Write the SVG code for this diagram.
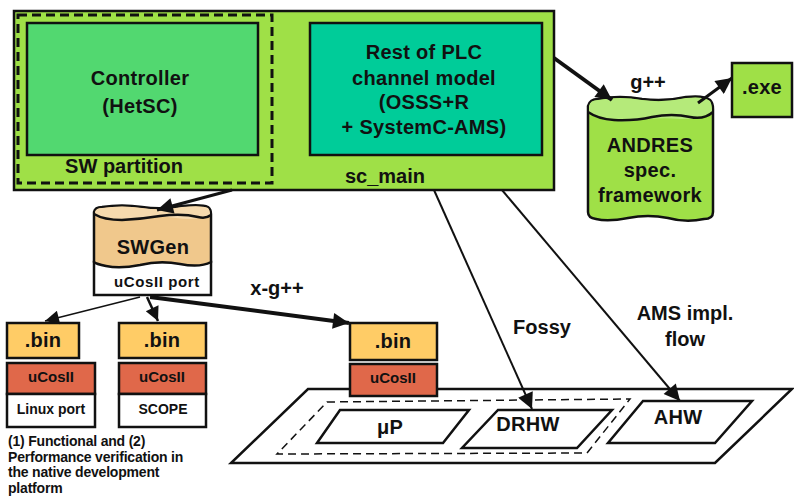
<svg xmlns="http://www.w3.org/2000/svg" width="794" height="497" viewBox="0 0 794 497">
  <style>
    .t { font-family: "Liberation Sans", Arial, sans-serif; font-weight: bold; fill: #111; text-anchor: middle; dominant-baseline: central; }
    .big { font-size: 20px; letter-spacing: 0.3px; }
    .mid { font-size: 20px; }
    .sm { font-size: 15px; }
    .cap { font-family: "Liberation Sans", Arial, sans-serif; font-weight: bold; font-size: 14px; fill: #111; letter-spacing: -0.2px; }
    .box { stroke: #111; stroke-width: 2.5; }
    .thin { stroke: #111; stroke-width: 2.5; fill: #fff; }
    .conn { fill: none; stroke: #111; }
  </style>
  <defs>
    <marker id="ah" viewBox="0 0 10 10" refX="10" refY="5" markerUnits="userSpaceOnUse" markerWidth="19" markerHeight="16" orient="auto">
      <path d="M0,0 L10,5 L0,10 Z" fill="#111"/>
    </marker>
    <marker id="ahs" viewBox="0 0 10 10" refX="10" refY="5" markerUnits="userSpaceOnUse" markerWidth="16" markerHeight="14" orient="auto">
      <path d="M0,0 L10,5 L0,10 Z" fill="#111"/>
    </marker>
  </defs>

  <!-- top-level SystemC model -->
  <g id="sc_main">
    <rect x="14" y="11" width="540" height="179" fill="#9FE047" class="box"/>
    <text class="t mid" x="385" y="176">sc_main</text>
  </g>

  <g id="sw_partition">
    <rect x="18" y="15" width="254" height="168" fill="none" stroke="#111" stroke-width="3" stroke-dasharray="9,5"/>
    <text class="t mid" x="124" y="166">SW partition</text>
  </g>

  <g id="controller">
    <rect x="27" y="23" width="231" height="132" fill="#52D870" class="box"/>
    <text class="t big" x="140" y="78">Controller</text>
    <text class="t big" x="140" y="106">(HetSC)</text>
  </g>

  <g id="rest_plc">
    <rect x="310" y="23" width="232" height="132" fill="#00CC99" class="box"/>
    <text class="t big" x="424" y="52">Rest of PLC</text>
    <text class="t big" x="424" y="78">channel model</text>
    <text class="t big" x="424" y="102">(OSSS+R</text>
    <text class="t big" x="424" y="127">+ SystemC-AMS)</text>
  </g>

  <!-- specification framework database -->
  <g id="andres">
    <path d="M588,106 Q590,99 598,99 Q620,95 642,99 Q664,102 686,97 Q704,95 710,100 Q713,103 713,109 L713,212 Q713,219 704,219 Q686,223 668,218 Q648,214 628,218 Q608,222 596,219 Q588,218 588,212 Z" fill="#9FE047" class="box"/>
    <path d="M589,106 Q590,100 598,100 Q620,96 642,100 Q664,103 686,98 Q704,96 710,101 Q712,104 712,112 Q700,120 680,119 Q660,117 640,120 Q618,124 600,118 Q590,116 589,112 Z" fill="#B5EA7A"/>
    <path d="M588,112 Q598,119 614,120 Q634,121 652,117 Q672,113 690,117 Q704,120 713,112" fill="none" stroke="#111" stroke-width="2.5"/>
    <text class="t big" x="650" y="145">ANDRES</text>
    <text class="t big" x="650" y="170">spec.</text>
    <text class="t big" x="650" y="195">framework</text>
  </g>

  <g id="exe">
    <rect x="732" y="63" width="60" height="54" fill="#9FE047" class="box"/>
    <text class="t big" x="762" y="87">.exe</text>
  </g>

  <!-- software generator -->
  <g id="swgen">
    <rect x="94" y="262" width="117" height="33" class="thin"/>
    <path d="M94,212 Q95,207 102,207 Q122,204 142,207 Q162,210 182,206 Q202,204 208,207 Q211,209 211,214 L211,262 Q200,268 180,264 Q160,260 140,265 Q120,269 106,266 Q96,264 94,262 Z" fill="#F0C88C" class="box"/>
    <path d="M95,212 Q96,208 102,208 Q122,205 142,208 Q162,211 182,207 Q202,205 208,208 Q210,210 210,215 Q196,221 176,218 Q156,215 136,219 Q116,222 96,216 Z" fill="#F6DAAE"/>
    <path d="M94,214 Q104,220 122,220 Q142,219 160,216 Q182,213 198,217 Q206,219 211,215" fill="none" stroke="#111" stroke-width="2.5"/>
    <text class="t big" x="153" y="247">SWGen</text>
    <text class="t sm" x="157" y="281" style="letter-spacing:0.6px">uCosII port</text>
  </g>

  <!-- native (Linux port) image -->
  <g id="bin_linux">
    <rect x="7" y="323" width="72" height="35" fill="#FFCC66" class="box"/>
    <rect x="7" y="363" width="88" height="31" fill="#E0684A" class="box"/>
    <rect x="7" y="394" width="88" height="33" class="thin"/>
    <text class="t big" x="43" y="340">.bin</text>
    <text class="t sm" x="51" y="376">uCosII</text>
    <text class="t sm" x="51" y="409" style="font-size:14px">Linux port</text>
  </g>

  <g id="bin_scope">
    <rect x="119" y="323" width="87" height="35" fill="#FFCC66" class="box"/>
    <rect x="119" y="363" width="87" height="31" fill="#E0684A" class="box"/>
    <rect x="119" y="394" width="87" height="33" class="thin"/>
    <text class="t big" x="162" y="340">.bin</text>
    <text class="t sm" x="162" y="376">uCosII</text>
    <text class="t sm" x="163" y="409" style="font-size:14px">SCOPE</text>
  </g>

  <g id="caption">
    <text class="cap" x="8" y="446">(1) Functional and (2)</text>
    <text class="cap" x="8" y="462">Performance verification in</text>
    <text class="cap" x="8" y="477">the native development</text>
    <text class="cap" x="8" y="493">platform</text>
  </g>

  <!-- target platform -->
  <g id="platform">
    <path d="M308,389 L792,389 L715,463 L231,463 Z" fill="#fff" stroke="#111" stroke-width="2.5"/>
    <path d="M327,402 L630,399 L587,453 L277,454 Z" fill="none" stroke="#111" stroke-width="1.5" stroke-dasharray="8,5"/>
  </g>

  <g id="bin_target">
    <rect x="350" y="323" width="87" height="37" fill="#FFCC66" class="box"/>
    <rect x="350" y="364" width="87" height="32" fill="#E0684A" class="box"/>
    <text class="t big" x="393" y="341">.bin</text>
    <text class="t sm" x="393" y="377">uCosII</text>
  </g>

  <g id="up">
    <path d="M340,410 L469,410 L443,443 L317,443 Z" class="thin"/>
    <text class="t big" x="390" y="427">μP</text>
  </g>

  <g id="drhw">
    <path d="M498,410 L612,410 L577,448 L462,448 Z" class="thin"/>
    <text class="t big" x="528" y="424">DRHW</text>
  </g>

  <g id="ahw">
    <path d="M643,401 L752,401 L715,443 L608,443 Z" class="thin"/>
    <text class="t big" x="678" y="417">AHW</text>
  </g>

  <!-- flows between models and targets -->
  <g id="connectors">
    <line class="conn" x1="554" y1="58" x2="612" y2="100" stroke-width="4" marker-end="url(#ah)"/>
    <line class="conn" x1="698" y1="103" x2="732" y2="78" stroke-width="3" marker-end="url(#ah)"/>
    <line class="conn" x1="232" y1="190" x2="157" y2="210" stroke-width="3" marker-end="url(#ah)"/>
    <line class="conn" x1="140" y1="297" x2="45" y2="321" stroke-width="1.5" marker-end="url(#ahs)"/>
    <line class="conn" x1="147" y1="297" x2="158" y2="321" stroke-width="2.5" marker-end="url(#ahs)"/>
    <line class="conn" x1="150" y1="297" x2="349" y2="323" stroke-width="4" marker-end="url(#ah)"/>
    <line class="conn" x1="434" y1="190" x2="532" y2="409" stroke-width="2" marker-end="url(#ah)"/>
    <line class="conn" x1="502" y1="190" x2="680" y2="401" stroke-width="2" marker-end="url(#ah)"/>
  </g>

  <g id="labels">
    <text class="t mid" x="648" y="82">g++</text>
    <text class="t mid" x="277" y="288">x-g++</text>
    <text class="t mid" x="542" y="327">Fossy</text>
    <text class="t mid" x="685" y="313">AMS impl.</text>
    <text class="t mid" x="685" y="339">flow</text>
  </g>
</svg>
